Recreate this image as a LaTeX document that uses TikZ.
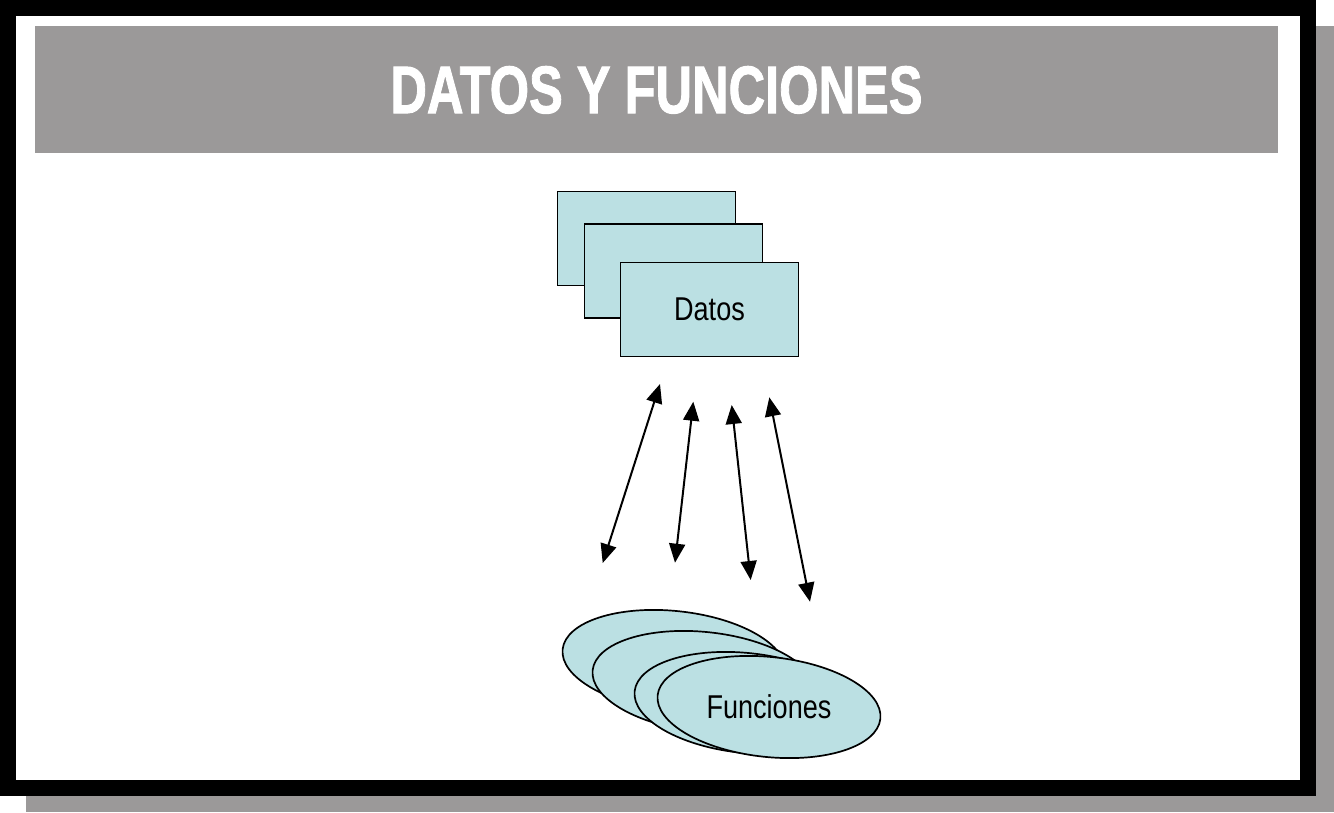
\documentclass[tikz,border=0pt]{standalone}
\usepackage{fontspec}
\setmainfont{Liberation Sans}
\newfontfamily\heavyfont{Liberation Sans}[BoldFeatures={FakeBold=1.6}]
\usepackage{graphicx}
\usepackage{tikz}
\usetikzlibrary{shapes,arrows.meta,positioning,calc}
\definecolor{bargray}{RGB}{155,153,153}
\definecolor{paleteal}{RGB}{187,224,227}

\begin{document}
\begin{tikzpicture}[x=1pt,y=-1pt,
  datobox/.style={draw=black,fill=paleteal,line width=1.7pt,minimum width=178pt,minimum height=94pt,inner sep=0pt},
  funcell/.style={ellipse,draw=black,fill=paleteal,line width=1.7pt,minimum width=224pt,minimum height=100pt,inner sep=0pt,rotate=-6},
  dblarrow/.style={{Triangle[length=19pt,width=16pt]}-{Triangle[length=19pt,width=16pt]},line width=2pt},
  narrowtxt/.style={font=\fontsize{33}{36}\selectfont}]
  \useasboundingbox (0,0) rectangle (1334,812);
  % frame with its shadow
  \fill[bargray] (26,26) rectangle (1334,812);
  \fill[black] (0,0) rectangle (1316,796);
  \fill[white] (16,16) rectangle (1300,780);
  % title bar
  \fill[bargray] (35,26) rectangle (1278,153);
  \node[anchor=base,text=white,inner sep=0pt,font=\heavyfont\bfseries\fontsize{67}{70}\selectfont] (title) at (656.5,113) {\scalebox{0.755}[1]{DATOS Y FUNCIONES}};
  % stack of data
  \node[datobox] (dat1) at (646.5,238.5) {};
  \node[datobox] (dat2) at (673.5,271) {};
  \node[datobox,narrowtxt] (dat3) at (709.5,309.5) {\scalebox{0.82}[1]{Datos}};
  % stack of functions
  \node[funcell] (fun1) at (674,661) {};
  \node[funcell] (fun2) at (704,682) {};
  \node[funcell] (fun3) at (746,703) {};
  \node[funcell] (fun4) at (769,707) {};
  \node[narrowtxt] (funlabel) at (fun4) {\scalebox{0.82}[1]{Funciones}};
  % arrows between them
  \coordinate (up1) at (660,384);   \coordinate (dn1) at (602.7,563);
  \coordinate (up2) at (693.3,401.7); \coordinate (dn2) at (675,562.7);
  \coordinate (up3) at (731.7,405); \coordinate (dn3) at (750.7,580);
  \coordinate (up4) at (769.3,397.3); \coordinate (dn4) at (810,601.7);
  \foreach \i in {1,...,4}
    \draw[dblarrow] (dn\i) -- (up\i);
\end{tikzpicture}
\end{document}
